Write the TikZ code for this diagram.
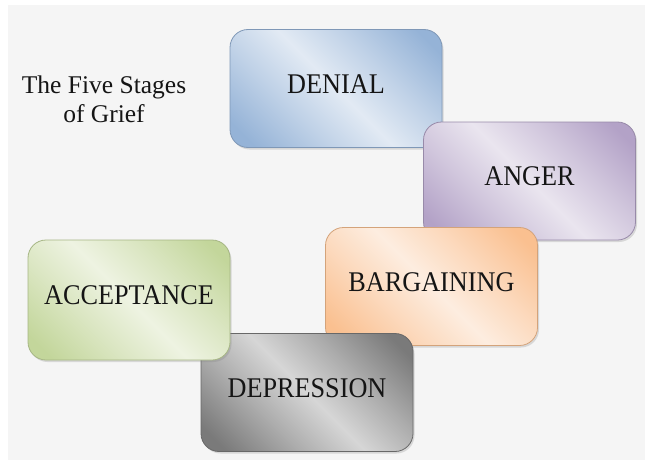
\documentclass[tikz,border=0pt]{standalone}
\usepackage{fontspec}
\setmainfont{Liberation Serif}
\usetikzlibrary{shadows}
\definecolor{bggray}{HTML}{F5F5F5}
\definecolor{denD}{HTML}{95B3D7}\definecolor{denL}{HTML}{E2EAF4}
\definecolor{angD}{HTML}{B3A2C7}\definecolor{angL}{HTML}{EAE5EF}
\definecolor{barD}{HTML}{FAC090}\definecolor{barL}{HTML}{FDEDE0}
\definecolor{depD}{HTML}{7A7A7A}\definecolor{depL}{HTML}{D6D6D6}
\definecolor{accD}{HTML}{C3D69B}\definecolor{accL}{HTML}{EEF3E2}
\colorlet{denM}{denD!45!denL}\colorlet{angM}{angD!45!angL}\colorlet{barM}{barD!45!barL}
\colorlet{depM}{depD!45!depL}\colorlet{accM}{accD!45!accL}
\definecolor{txt}{HTML}{151515}
\pgfdeclarehorizontalshading{denS}{100bp}{color(0bp)=(denD); color(20bp)=(denD); color(36bp)=(denM); color(50bp)=(denL); color(64bp)=(denM); color(80bp)=(denD); color(100bp)=(denD)}
\pgfdeclarehorizontalshading{angS}{100bp}{color(0bp)=(angD); color(20bp)=(angD); color(36bp)=(angM); color(50bp)=(angL); color(64bp)=(angM); color(80bp)=(angD); color(100bp)=(angD)}
\pgfdeclarehorizontalshading{barS}{100bp}{color(0bp)=(barD); color(20bp)=(barD); color(36bp)=(barM); color(50bp)=(barL); color(64bp)=(barM); color(80bp)=(barD); color(100bp)=(barD)}
\pgfdeclarehorizontalshading{depS}{100bp}{color(0bp)=(depD); color(20bp)=(depD); color(36bp)=(depM); color(50bp)=(depL); color(64bp)=(depM); color(80bp)=(depD); color(100bp)=(depD)}
\pgfdeclarehorizontalshading{accS}{100bp}{color(0bp)=(accD); color(20bp)=(accD); color(36bp)=(accM); color(50bp)=(accL); color(64bp)=(accM); color(80bp)=(accD); color(100bp)=(accD)}
\newcommand{\stagetext}[1]{\scalebox{0.92}[1]{#1}}
\begin{document}
\begin{tikzpicture}[x=1pt,y=-1pt,
  stagebox/.style={rectangle, rounded corners=18pt, minimum width=212pt, minimum height=118pt,
    inner sep=0pt, line width=0.8pt, shading angle=45, text=txt,
    font=\fontsize{28.5}{32}\selectfont, text height=9pt, text depth=0pt,
    drop shadow={shadow xshift=1.5pt, shadow yshift=-2pt, opacity=0.25}},
  titletext/.style={align=center, inner sep=0pt, text=txt, font=\fontsize{25.5}{29}\selectfont}]
\useasboundingbox (0,0) rectangle (645,460);
\fill[white] (0,0) rectangle (645,460);
\fill[bggray] (8,5) rectangle (645,460);
\node[titletext] (title) at (104,99) {The Five Stages\\of Grief};
\node[stagebox, shading=denS, draw=denD!85!black] (denial) at (336,88.5) {\stagetext{DENIAL}};
\node[stagebox, shading=angS, draw=angD!85!black] (anger) at (529.5,181) {\stagetext{ANGER}};
\node[stagebox, shading=barS, draw=barD!85!black] (bargaining) at (431.5,286.5) {\stagetext{BARGAINING}};
\node[stagebox, shading=depS, draw=depD!85!black] (depression) at (307,392.5) {\stagetext{DEPRESSION}};
\node[stagebox, minimum width=202pt, minimum height=120pt, shading=accS, draw=accD!85!black] (acceptance) at (129,300) {\stagetext{ACCEPTANCE}};
\end{tikzpicture}
\end{document}
